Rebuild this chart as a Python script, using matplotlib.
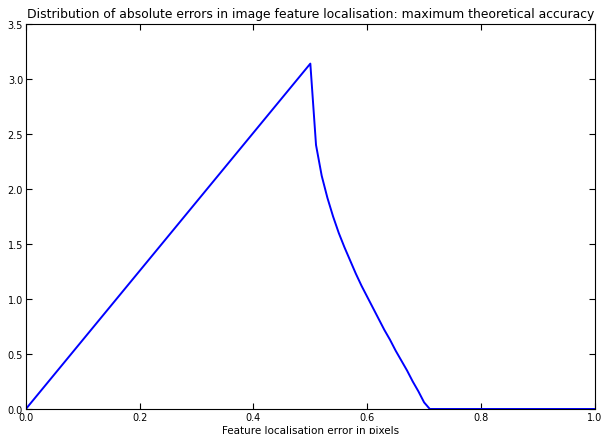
import numpy as np
import matplotlib.pyplot as plt

# values
err_px = [0.00, 0.50, 0.51, 0.52, 0.53, 0.54, 0.55, 0.56, 0.57, 0.58, 0.59,
          0.60, 0.61, 0.62, 0.63, 0.64, 0.65, 0.66, 0.67, 0.68, 0.69, 0.70,
          0.71, 0.80, 0.90, 1.00]
density = [0.00, 3.14, 2.40, 2.12, 1.92, 1.75, 1.60, 1.47, 1.35, 1.23, 1.12,
           1.02, 0.92, 0.82, 0.72, 0.63, 0.53, 0.44, 0.35, 0.25, 0.16, 0.06,
           0.00, 0.00, 0.00, 0.00]

x_ticks = [0.0, 0.2, 0.4, 0.6, 0.8, 1.0]
y_ticks = [0.0, 0.5, 1.0, 1.5, 2.0, 2.5, 3.0, 3.5]

fig = plt.figure(figsize=(6.02, 4.35), dpi=100)
ax = fig.add_axes([0.043, 0.0575, 0.945, 0.885])

ax.plot(err_px, density, color='#0000ff', lw=1.4)

ax.set_xlim(0, 1)
ax.set_ylim(0, 3.5)
ax.set_xticks(x_ticks)
ax.set_yticks(y_ticks)
ax.tick_params(direction='in', top=True, right=True, length=4, labelsize=7, pad=2)
ax.set_xlabel('Feature localisation error in pixels', fontsize=7.5, labelpad=2)
ax.set_title('Distribution of absolute errors in image feature localisation: maximum theoretical accuracy',
             fontsize=8.9, pad=5)

fig.savefig('out.png', dpi=100)
